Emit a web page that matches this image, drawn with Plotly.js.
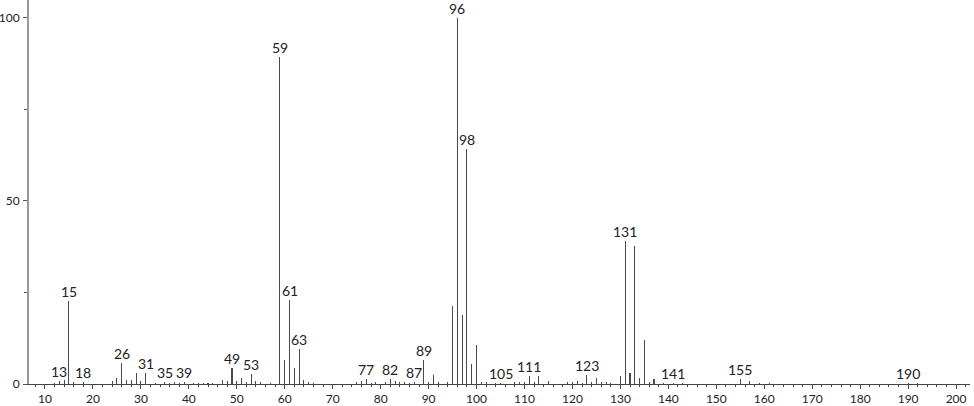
<!DOCTYPE html>
<html>
<head>
<meta charset="utf-8">
<script src="https://cdn.plot.ly/plotly-3.0.1.min.js"></script>
<style>html,body{margin:0;padding:0;background:#fff;}#chart{width:974px;height:406px;}</style>
</head>
<body>
<div id="chart"></div>
<script>
// m/z values of the peaks
const mz = [12,13,14,15,16,18,24,25,26,27,28,29,30,31,33,35,36,37,38,39,41,42,43,44,45,47,48,49,50,51,52,53,54,55,57,
  59,60,61,62,63,64,65,66,75,76,77,78,79,81,82,83,84,85,86,87,89,90,91,92,94,95,96,97,98,99,100,101,102,104,105,
  108,109,110,111,112,113,115,119,120,121,122,123,124,125,126,127,128,130,131,132,133,134,135,136,137,139,141,143,
  155,157,159,161,190,192];
// relative intensities (%)
const intensity = [0.3,0.8,1.0,22.6,0.5,0.6,0.8,1.6,5.7,1.1,1.1,3.1,0.8,3.1,0.3,0.6,0.3,0.5,0.4,0.5,0.3,0.3,0.3,0.3,0.4,1.2,0.7,4.4,0.8,1.7,0.6,2.6,0.8,0.6,0.3,
  89.3,6.6,23.0,4.5,9.6,1.1,0.6,0.2,0.5,0.8,1.5,0.4,0.6,0.6,1.3,0.8,0.6,0.6,0.3,0.6,6.6,0.5,2.5,0.5,0.6,21.3,100,18.8,64.2,5.6,10.6,0.6,0.6,0.3,0.3,
  0.6,0.6,0.5,2.3,0.5,2.2,0.8,0.6,0.6,0.8,0.4,2.4,0.6,1.6,0.6,0.6,0.4,2.3,39.2,3.0,37.8,1.6,12.0,0.5,1.5,0.3,0.4,0.4,
  1.3,0.8,0.4,0.3,0.3,0.2];
// peaks that carry a label
const labeled = [13,15,18,26,31,35,39,49,53,59,61,63,77,82,87,89,96,98,105,111,123,131,141,155,190];
const xTickVals = [10,20,30,40,50,60,70,80,90,100,110,120,130,140,150,160,170,180,190,200];
const yTickVals = [0,50,100];

const annotations = labeled.map(m => {
  const i = mz.indexOf(m);
  return {x: m, y: intensity[i], text: String(m), showarrow: false, xanchor: 'center', yanchor: 'bottom',
          yshift: 0, borderpad: 0, font: {family: 'Lato, "DejaVu Sans", sans-serif', size: 14, color: '#222'}};
});

const trace = {
  type: 'bar', x: mz, y: intensity, width: 0.22,
  marker: {color: '#4a4a4a', line: {width: 0}},
  hoverinfo: 'x+y'
};

const layout = {
  width: 974, height: 406,
  margin: {l: 29, r: 4, t: 0, b: 22},
  paper_bgcolor: '#fff', plot_bgcolor: '#fff',
  showlegend: false, bargap: 0,
  xaxis: {
    range: [6.67, 202.9], tickmode: 'array', tickvals: xTickVals, ticktext: xTickVals.map(String),
    ticks: 'outside', ticklen: 4, tickcolor: '#444', tickwidth: 1,
    minor: {dtick: 2, tick0: 0, ticks: 'outside', ticklen: 2, tickcolor: '#444', showgrid: false},
    showline: true, linecolor: '#444', linewidth: 1, showgrid: false, zeroline: false,
    tickfont: {family: 'Lato, "DejaVu Sans", sans-serif', size: 12, color: '#222'}, ticklabelstandoff: 0
  },
  yaxis: {
    range: [0, 104.9], tickmode: 'array', tickvals: yTickVals, ticktext: yTickVals.map(String),
    ticks: 'outside', ticklen: 4, tickcolor: '#555', tickwidth: 1,
    minor: {tickvals: [25, 75], ticks: 'outside', ticklen: 3, tickcolor: '#555', showgrid: false},
    showline: true, linecolor: '#999', linewidth: 2, showgrid: false, zeroline: false,
    tickfont: {family: 'Lato, "DejaVu Sans", sans-serif', size: 12, color: '#222'}, ticklabelstandoff: 1
  },
  annotations: annotations
};

Plotly.newPlot('chart', [trace], layout, {displayModeBar: false, staticPlot: true});
</script>
</body>
</html>
